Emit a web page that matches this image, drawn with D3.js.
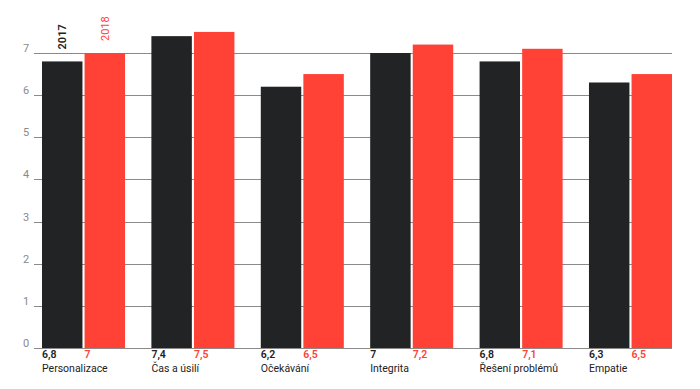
<!DOCTYPE html>
<html lang="cs">
<meta charset="utf-8">
<head>
<script src="https://d3js.org/d3.v7.min.js"></script>
<style>
  body { margin: 0; background: #fff; }
  text { font-family: "Roboto", "Liberation Sans", sans-serif; }
  .grid line { stroke: #8a8a8a; stroke-width: 1; }
  .ylab { fill: #8a8a8a; font-size: 11px; }
</style>
</head>
<body>
<div id="chart"></div>
<script>
var categories = ["Personalizace", "Čas a úsilí", "Očekávání", "Integrita", "Řešení problémů", "Empatie"];
var values2017 = [6.8, 7.4, 6.2, 7, 6.8, 6.3];
var values2018 = [7, 7.5, 6.5, 7.2, 7.1, 6.5];
var series = ["2017", "2018"];
var yTicks = [0, 1, 2, 3, 4, 5, 6, 7];

var w = 700, h = 389;
var colors = { "2017": "#222325", "2018": "#ff4136" };

var svg = d3.select("#chart").append("svg")
    .attr("width", w)
    .attr("height", h);

var x0 = 34, x1 = 672, yBase = 348;

var xScale = d3.scaleBand()
    .domain(categories)
    .range([42, 672])
    .paddingInner(0.241)
    .paddingOuter(0);

var xSub = d3.scaleBand()
    .domain(series)
    .range([0, xScale.bandwidth()])
    .paddingInner(0.05);

var yScale = d3.scaleLinear()
    .domain([0, 7])
    .range([yBase, 53]);

// grid lines
var grid = svg.append("g").attr("class", "grid");
grid.selectAll("line")
    .data(yTicks)
    .enter()
    .append("line")
    .attr("x1", x0)
    .attr("x2", x1)
    .attr("y1", function(d) { return Math.round(yScale(d)) + 0.5; })
    .attr("y2", function(d) { return Math.round(yScale(d)) + 0.5; });

svg.selectAll(".ylab")
    .data(yTicks)
    .enter()
    .append("text")
    .attr("class", "ylab")
    .attr("x", 26)
    .attr("y", function(d) { return yScale(d) - 1; })
    .attr("text-anchor", "middle")
    .text(function(d) { return d; });

// bars
var data = categories.map(function(c, i) {
    return { cat: c, vals: [
        { s: "2017", v: values2017[i] },
        { s: "2018", v: values2018[i] }
    ]};
});

var groups = svg.selectAll(".grp")
    .data(data)
    .enter()
    .append("g")
    .attr("class", "grp")
    .attr("transform", function(d) { return "translate(" + xScale(d.cat) + ",0)"; });

groups.selectAll("rect")
    .data(function(d) { return d.vals; })
    .enter()
    .append("rect")
    .attr("x", function(d) { return xSub(d.s); })
    .attr("y", function(d) { return yScale(d.v); })
    .attr("width", xSub.bandwidth())
    .attr("height", function(d) { return yBase - yScale(d.v); })
    .attr("fill", function(d) { return colors[d.s]; });

// value labels
groups.selectAll(".val")
    .data(function(d) { return d.vals; })
    .enter()
    .append("text")
    .attr("class", "val")
    .attr("x", function(d) { return xSub(d.s); })
    .attr("y", 358)
    .attr("font-size", 10.5)
    .attr("font-weight", 600)
    .attr("fill", function(d) { return d.s === "2017" ? "#222" : "#ff4136"; })
    .text(function(d) { return String(d.v).replace(".", ","); });

groups.append("text")
    .attr("x", 0)
    .attr("y", 372)
    .attr("font-size", 10.5)
    .attr("fill", "#222")
    .text(function(d) { return d.cat; });

// legend: rotated year labels above the first group
var first = data[0];
svg.selectAll(".leg")
    .data(first.vals)
    .enter()
    .append("text")
    .attr("class", "leg")
    .attr("font-size", 11)
    .attr("font-weight", function(d) { return d.s === "2017" ? 600 : 400; })
    .attr("fill", function(d) { return colors[d.s]; })
    .attr("transform", function(d) {
        var cx = xScale(first.cat) + xSub(d.s) + xSub.bandwidth() / 2 + 4;
        return "translate(" + cx + "," + (yScale(d.v) - 12) + ") rotate(-90)";
    })
    .text(function(d) { return d.s; });
</script>
</body>
</html>
